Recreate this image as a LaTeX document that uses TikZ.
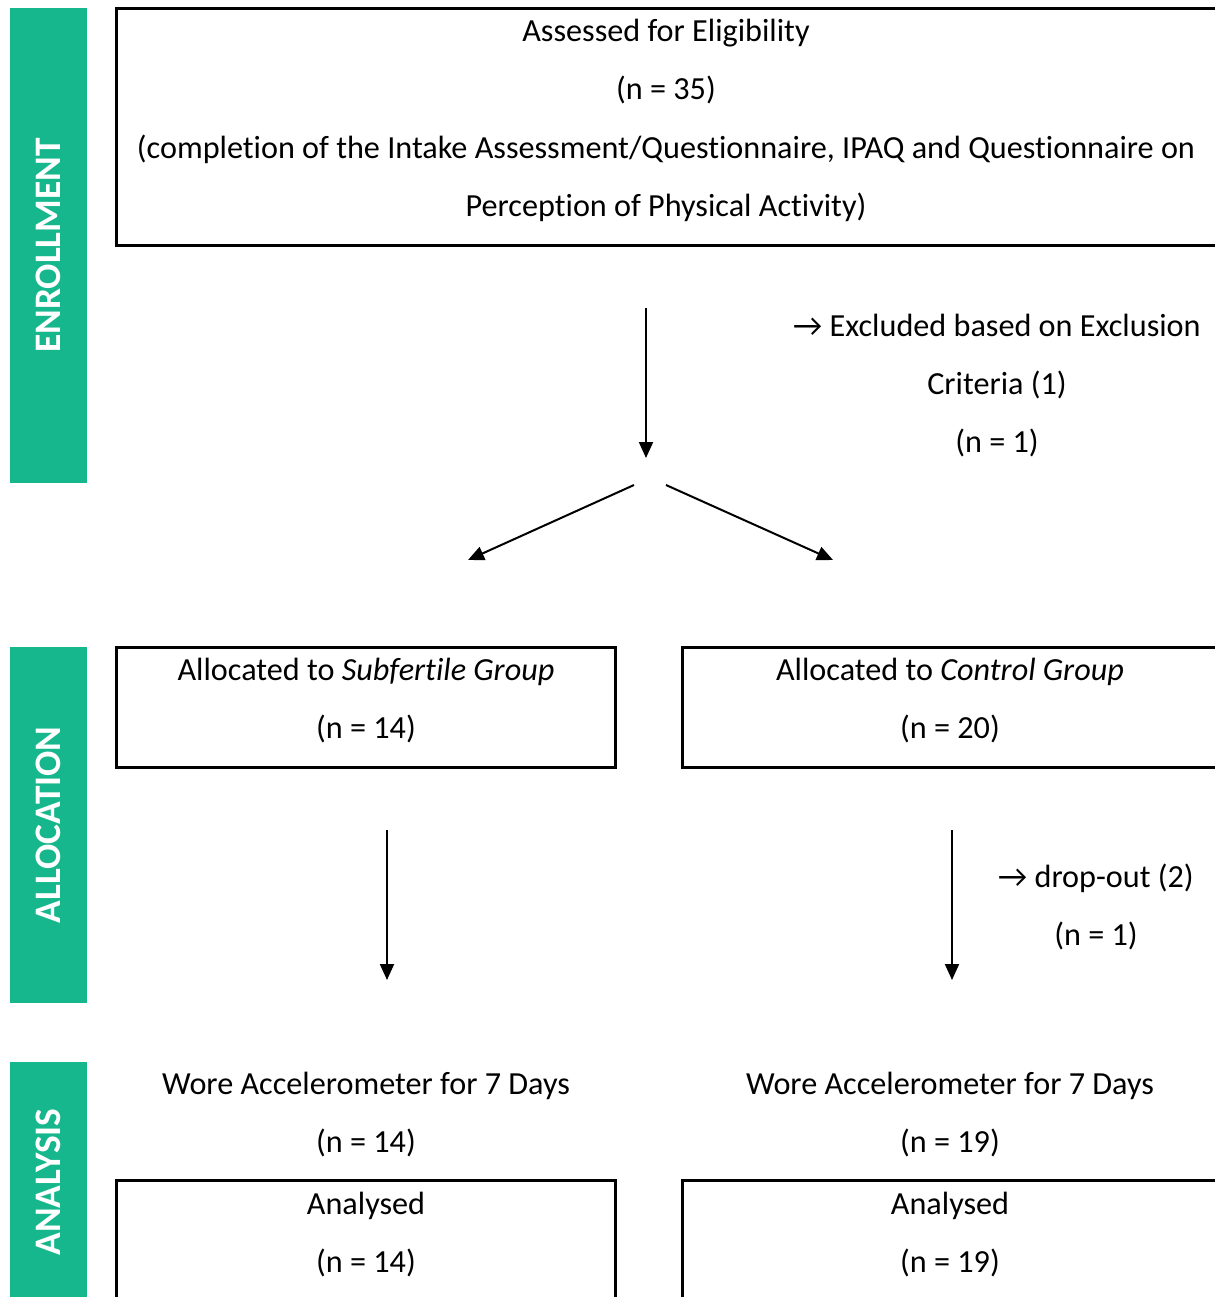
\documentclass[tikz,border=0pt]{standalone}
\usepackage{fontspec}
\setmainfont{Carlito}[Ligatures=NoCommon]
\usetikzlibrary{arrows.meta}
\definecolor{phasegreen}{RGB}{22,183,140}
\tikzset{
  phase/.style={fill=phasegreen, text=white, rotate=90, minimum height=38.5pt,
    font=\fontsize{18.7}{20}\selectfont\bfseries, inner sep=0pt},
  box/.style={draw, line width=1.5pt},
  txt/.style={align=center, inner sep=0pt, font=\fontsize{16.1}{29.2}\selectfont},
  arrow/.style={-{Triangle[length=8pt,width=7pt]}, line width=1pt}
}
\begin{document}
\begin{tikzpicture}[x=0.5pt, y=-0.5pt]
			%%%%% FRAME %%%%%
			\useasboundingbox (0, 0) rectangle (1215, 1297);
			\clip (0, 0) rectangle (1215, 1297);
			
			%%%%% PHASES %%%%%
			\node[phase, minimum width=237.5pt] (enroll) at (48.5, 245.5) {ENROLLMENT};
			\node[phase, minimum width=178pt] (alloc) at (48.5, 825) {ALLOCATION};
			\node[phase, minimum width=120pt] (analysis) at (48.5, 1182) {ANALYSIS};
			
			%%%%% ENROLLMENT %%%%%
			\draw[box] (116, 8) rectangle (1218, 245);
			\node[txt] (assess) at (666, 120.5) {Assessed for Eligibility\\(n = 35)\\(completion of the Intake Assessment/Questionnaire, IPAQ and Questionnaire on\\Perception of Physical Activity)};
			
			\coordinate (down1) at (646, 308);
			\coordinate (down2) at (646, 458);
			\draw[arrow] (down1) -- (down2);
			\node[txt] (excl) at (997, 385.5) {→ Excluded based on Exclusion\\Criteria (1)\\(n = 1)};
			
			\coordinate (splitL) at (634, 485);
			\coordinate (splitR) at (666, 485);
			\coordinate (toL) at (468, 560);
			\coordinate (toR) at (833, 560);
			\draw[arrow] (splitL) -- (toL);
			\draw[arrow] (splitR) -- (toR);
			
			%%%%% ALLOCATION %%%%%
			\draw[box] (116, 647) rectangle (615, 767);
			\node[txt] (subf) at (366, 700.5) {Allocated to \emph{Subfertile Group}\\(n = 14)};
			\draw[box] (682, 647) rectangle (1218, 767);
			\node[txt] (ctrl) at (950, 700.5) {Allocated to \emph{Control Group}\\(n = 20)};
			
			\coordinate (subfA) at (387, 830);
			\coordinate (subfB) at (387, 980);
			\coordinate (ctrlA) at (952, 830);
			\coordinate (ctrlB) at (952, 980);
			\draw[arrow] (subfA) -- (subfB);
			\draw[arrow] (ctrlA) -- (ctrlB);
			\node[txt] (drop) at (1096, 907) {→ drop-out (2)\\(n = 1)};
			
			%%%%% ANALYSIS %%%%%
			\node[txt] (woreL) at (366, 1114.5) {Wore Accelerometer for 7 Days\\(n = 14)};
			\node[txt] (woreR) at (950, 1114.5) {Wore Accelerometer for 7 Days\\(n = 19)};
			
			\draw[box] (116, 1180) rectangle (615, 1320);
			\node[txt] (anaL) at (366, 1234.5) {Analysed\\(n = 14)};
			\draw[box] (682, 1180) rectangle (1218, 1320);
			\node[txt] (anaR) at (950, 1234.5) {Analysed\\(n = 19)};
\end{tikzpicture}
\end{document}
